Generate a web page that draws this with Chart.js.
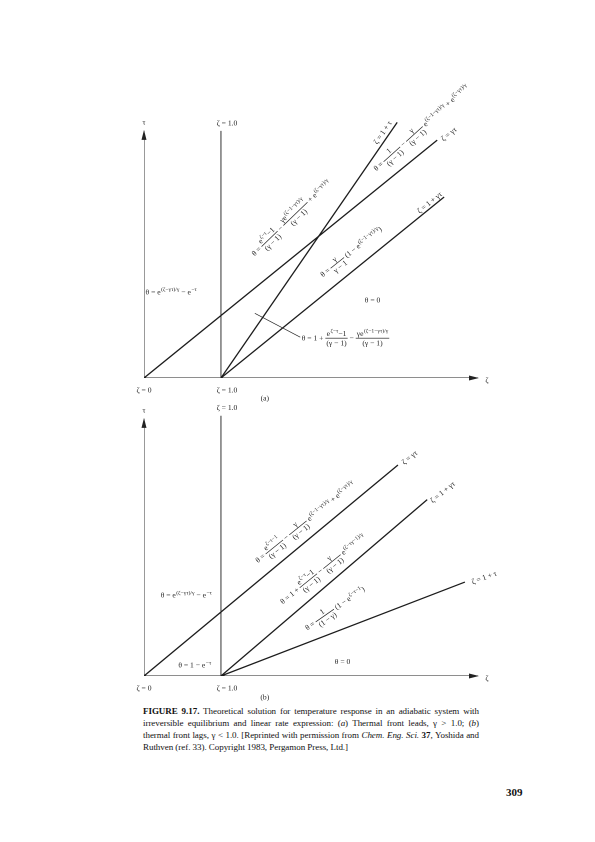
<!DOCTYPE html>
<html>
<head>
<meta charset="utf-8">
<script src="https://cdn.jsdelivr.net/npm/chart.js@4/dist/chart.umd.min.js"></script>
<style>
  body { margin:0; background:#fff; }
  #page { position:relative; width:595px; height:842px; overflow:hidden; }
  canvas { position:absolute; left:0; }
  #caption { position:absolute; left:143px; top:705px; width:336px; font:9px/12px "Liberation Serif", serif; letter-spacing:-0.05px; color:#111; text-align:justify; }
  #pageno { position:absolute; left:506px; top:786px; font:bold 11px "Liberation Serif", serif; color:#111; }
</style>
</head>
<body>
<div id="page">
  <canvas id="chartA" width="595" height="410" style="top:0"></canvas>
  <canvas id="chartB" width="595" height="305" style="top:400px"></canvas>
  <div id="caption"><b>FIGURE 9.17.</b> Theoretical solution for temperature response in an adiabatic system with irreversible equilibrium and linear rate expression: (<i>a</i>) Thermal front leads, γ &gt; 1.0; (<i>b</i>) thermal front lags, γ &lt; 1.0. [Reprinted with permission from <i>Chem. Eng. Sci.</i> <b>37</b>, Yoshida and Ruthven (ref. 33). Copyright 1983, Pergamon Press, Ltd.]</div>
  <div id="pageno">309</div>
</div>
<script>
// ---- panel (a): thermal front leads ----
const namesA = ['ζ = γτ', 'ζ = 1 + τ', 'ζ = 1 + γτ', 'ζ = 1.0'];
const zetaStartA = [0, 1, 1, 1];
const zetaEndA = [3.81, 3.29, 3.90, 1];
const tauEndA = [3.09, 3.32, 2.35, 3.21];
const zetaMaxA = 4.34, tauMaxA = 3.21;

// ---- panel (b): thermal front lags ----
const namesB = ['ζ = γτ', 'ζ = 1 + γτ', 'ζ = 1 + τ', 'ζ = 1.0'];
const zetaStartB = [0, 1, 1, 1];
const zetaEndB = [3.30, 3.68, 4.17, 1];
const tauEndB = [2.74, 2.29, 1.22, 3.38];
const zetaMaxB = 4.34, tauMaxB = 3.34;

// text: [text, zeta, tau, angle(deg), align, dx, dy]
const labelsA = [
  ['τ', 0, 3.21, 0, 'c', 0, -9],
  ['ζ = 1.0', 1, 3.21, 0, 'c', 6, -8],
  ['ζ = 0', 0, 0, 0, 'c', 0, 12],
  ['ζ = 1.0', 1, 0, 0, 'c', 6, 12],
  ['ζ', 4.34, 0, 0, 'c', 9, 2],
  ['(a)', 1.57, 0, 0, 'c', 0, 20],
  ['θ = e^{(ζ−γτ)/γ} − e^{−τ}', 0.02, 1.12, 0, 'l'],
  ['θ = 0', 2.97, 1.01, 0, 'c'],
  ['θ = 1 + \\f{e^{ζ−τ}−1}{(γ − 1)} − \\f{γe^{(ζ−1−γτ)/γ}}{(γ − 1)}', 2.05, 0.52, 0, 'l'],
  ['θ = \\f{e^{ζ−τ}−1}{(γ − 1)} − \\f{γe^{(ζ−1−γτ)/γ}}{(γ − 1)} + e^{(ζ−γτ)/γ}', 1.91, 2.08, 44, 'c'],
  ['θ = \\f{γ}{γ − 1} (1 − e^{(ζ−1−γτ)/γ})', 2.69, 1.64, 38.5, 'c'],
  ['θ = \\f{1}{(γ − 1)} − \\f{γ}{(γ − 1)} e^{(ζ−1−γτ)/γ} + e^{(ζ−γτ)/γ}', 3.60, 3.25, 42, 'c'],
  ['ζ = 1 + τ', 3.10, 3.19, 55.5, 'c'],
  ['ζ = γτ', 3.96, 3.17, 39, 'c'],
  ['ζ = 1 + γτ', 3.71, 2.28, 39, 'c']
];
const leaderA = [[1.44, 0.84], [2.03, 0.53]];

const labelsB = [
  ['τ', 0, 3.34, 0, 'c', 0, -9],
  ['ζ = 1.0', 1, 3.38, 0, 'c', 6, -8],
  ['ζ = 0', 0, 0, 0, 'c', 0, 12],
  ['ζ = 1.0', 1, 0, 0, 'c', 6, 12],
  ['ζ', 4.34, 0, 0, 'c', 9, 2],
  ['(b)', 1.57, 0, 0, 'c', 0, 21],
  ['θ = e^{(ζ−γτ)/γ} − e^{−τ}', 0.55, 1.05, 0, 'c'],
  ['θ = 1 − e^{−τ}', 0.66, 0.14, 0, 'c'],
  ['θ = 0', 2.58, 0.19, 0, 'c'],
  ['θ = \\f{e^{ζ−τ−1}}{(γ − 1)} − \\f{γ}{(γ − 1)} e^{(ζ−1−γτ)/γ} + e^{(ζ−γτ)/γ}', 2.09, 2.0, 39, 'c'],
  ['θ = 1 + \\f{e^{ζ−τ}−1}{(γ − 1)} − \\f{γ}{(γ − 1)} e^{(ζ−τγ−1)/γ}', 2.32, 1.39, 39, 'c'],
  ['θ = \\f{1}{(1 − γ)} (1 − e^{ζ−τ−1})', 2.48, 0.88, 35, 'c'],
  ['ζ = γτ', 3.45, 2.84, 39, 'c'],
  ['ζ = 1 + γτ', 3.88, 2.39, 39, 'c'],
  ['ζ = 1 + τ', 4.42, 1.28, 20, 'c']
];

const FONT = '"Liberation Serif", serif';

function grab(s, i) { // s[i] == '{'
  let d = 0, j = i;
  for (; j < s.length; j++) {
    if (s[j] === '{') d++;
    else if (s[j] === '}') { d--; if (d === 0) break; }
  }
  return [s.slice(i + 1, j), j + 1];
}
function parse(s) {
  const out = []; let buf = '', i = 0;
  const flush = () => { if (buf) out.push({ t: 'txt', s: buf }); buf = ''; };
  while (i < s.length) {
    if (s.startsWith('\\f', i)) {
      flush();
      const [a, i1] = grab(s, i + 2); const [b, i2] = grab(s, i1);
      out.push({ t: 'frac', n: parse(a), d: parse(b) }); i = i2;
    } else if (s[i] === '^') {
      flush();
      const [a, i1] = grab(s, i + 1);
      out.push({ t: 'sup', c: parse(a) }); i = i1;
    } else { buf += s[i]; i++; }
  }
  flush();
  return out;
}
function measure(ctx, nodes, size) {
  let w = 0;
  for (const n of nodes) {
    if (n.t === 'txt') { ctx.font = size + 'px ' + FONT; w += ctx.measureText(n.s).width; }
    else if (n.t === 'sup') w += measure(ctx, n.c, size * 0.75) + 0.5;
    else w += Math.max(measure(ctx, n.n, size), measure(ctx, n.d, size)) + 2;
  }
  return w;
}
function drawNodes(ctx, nodes, x, y, size) {
  for (const n of nodes) {
    if (n.t === 'txt') {
      ctx.font = size + 'px ' + FONT; ctx.fillText(n.s, x, y); x += ctx.measureText(n.s).width;
    } else if (n.t === 'sup') {
      x = drawNodes(ctx, n.c, x + 0.5, y - size * 0.42, size * 0.75);
    } else {
      const wn = measure(ctx, n.n, size), wd = measure(ctx, n.d, size);
      const w = Math.max(wn, wd) + 2, ax = y - size * 0.3;
      drawNodes(ctx, n.n, x + (w - wn) / 2, ax - size * 0.3, size);
      drawNodes(ctx, n.d, x + (w - wd) / 2, ax + size * 0.95, size);
      ctx.fillRect(x, ax - 0.35, w, 0.7);
      x += w;
    }
  }
  return x;
}

function makePlugin(labels, leader) {
  return {
    id: 'annot',
    afterDraw(chart) {
      const { ctx, scales: { x, y } } = chart;
      ctx.save();
      ctx.fillStyle = '#222'; ctx.strokeStyle = '#222';
      // arrowheads on the two axes
      const ox = x.getPixelForValue(0), oy = y.getPixelForValue(0);
      const ty = y.getPixelForValue(chart.data.datasets[1].data[1].y);
      const xe = x.getPixelForValue(chart.data.datasets[0].data[1].x);
      ctx.beginPath(); ctx.moveTo(xe + 1, oy); ctx.lineTo(xe - 9, oy - 2.5); ctx.lineTo(xe - 9, oy + 2.5); ctx.fill();
      ctx.beginPath(); ctx.moveTo(ox, ty - 1); ctx.lineTo(ox - 2.5, ty + 9); ctx.lineTo(ox + 2.5, ty + 9); ctx.fill();
      if (leader) {
        ctx.lineWidth = 0.6; ctx.beginPath();
        ctx.moveTo(x.getPixelForValue(leader[0][0]), y.getPixelForValue(leader[0][1]));
        ctx.lineTo(x.getPixelForValue(leader[1][0]), y.getPixelForValue(leader[1][1]));
        ctx.stroke();
      }
      for (const [txt, zx, ty2, ang, al, dx = 0, dy = 0] of labels) {
        const nodes = parse(txt), size = 7.6;
        const w = measure(ctx, nodes, size);
        ctx.save();
        ctx.translate(x.getPixelForValue(zx) + dx, y.getPixelForValue(ty2) + dy);
        ctx.rotate(-ang * Math.PI / 180);
        drawNodes(ctx, nodes, al === 'l' ? 0 : -w / 2, size * 0.33, size);
        ctx.restore();
      }
      ctx.restore();
    }
  };
}

function buildDatasets(zs, ze, te, zMax, tMax) {
  const ds = [
    { data: [{ x: 0, y: 0 }, { x: zMax, y: 0 }], borderWidth: 1 },
    { data: [{ x: 0, y: 0 }, { x: 0, y: tMax }], borderWidth: 0.9 }
  ];
  for (let i = 0; i < zs.length; i++) {
    ds.push({ data: [{ x: zs[i], y: 0 }, { x: ze[i], y: te[i] }], borderWidth: zs[i] === ze[i] ? 0.9 : 1.3 });
  }
  return ds.map(d => Object.assign(d, { showLine: true, borderColor: '#1c1c1c', pointRadius: 0, fill: false }));
}

function makeChart(id, datasets, yMax, pad, plugin) {
  return new Chart(document.getElementById(id), {
    type: 'scatter',
    data: { datasets },
    options: {
      responsive: false, animation: false, devicePixelRatio: 2,
      layout: { padding: pad },
      plugins: { legend: { display: false }, tooltip: { enabled: false } },
      scales: {
        x: { type: 'linear', min: 0, max: 4.34, display: false },
        y: { type: 'linear', min: 0, max: yMax, display: false }
      }
    },
    plugins: [plugin]
  });
}

// 77 px per unit on both axes; origin at page (144, 378) and (144, 676)
makeChart('chartA', buildDatasets(zetaStartA, zetaEndA, tauEndA, zetaMaxA, tauMaxA),
  4.6, { left: 144, right: 117, top: 23.8, bottom: 32 }, makePlugin(labelsA, leaderA));
makeChart('chartB', buildDatasets(zetaStartB, zetaEndB, tauEndB, zetaMaxB, tauMaxB),
  3.5, { left: 144, right: 117, top: 6.5, bottom: 29 }, makePlugin(labelsB, null));
</script>
</body>
</html>
